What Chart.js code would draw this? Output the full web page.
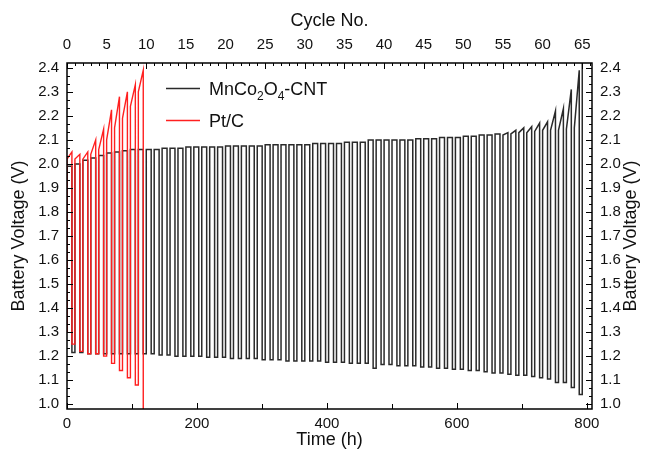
<!DOCTYPE html>
<html>
<head>
<meta charset="utf-8">
<script src="https://cdn.jsdelivr.net/npm/chart.js@4.4.0/dist/chart.umd.min.js"></script>
<style>
  html, body { margin: 0; padding: 0; background: #fff; }
</style>
</head>
<body>
<canvas id="cycleChart" width="648" height="451"></canvas>
<script>
// Per-cycle voltages (V)
const cntCharge = [
  1.99, 2.00, 2.015, 2.025, 2.035, 2.045, 2.05, 2.055, 2.06, 2.06,
  2.06, 2.06, 2.065, 2.065, 2.065, 2.07, 2.07, 2.07, 2.07, 2.07,
  2.075, 2.075, 2.075, 2.075, 2.075, 2.08, 2.08, 2.08, 2.08, 2.08,
  2.08, 2.085, 2.085, 2.085, 2.085, 2.09, 2.09, 2.09,
  2.10, 2.10, 2.10, 2.10, 2.10, 2.10, 2.105,
  2.105, 2.105, 2.11, 2.11, 2.11,
  2.115, 2.115, 2.12, 2.12, 2.125,
  2.13, 2.14, 2.15, 2.155, 2.17, 2.175, 2.22, 2.23, 2.31, 2.39
];
const cntDischarge = [
  1.215, 1.215, 1.21, 1.21, 1.21, 1.21, 1.21, 1.21, 1.21, 1.21,
  1.21, 1.205, 1.205, 1.20, 1.20, 1.20, 1.20, 1.195, 1.195, 1.195,
  1.19, 1.19, 1.19, 1.19, 1.185, 1.185, 1.185, 1.18, 1.18, 1.18,
  1.18, 1.18, 1.175, 1.175, 1.175, 1.17, 1.17, 1.17,
  1.15, 1.165, 1.165, 1.16, 1.16, 1.16, 1.155,
  1.155, 1.15, 1.15, 1.145, 1.145, 1.14, 1.14, 1.135, 1.13, 1.13,
  1.125, 1.12, 1.12, 1.115, 1.11, 1.105, 1.09, 1.09, 1.07, 1.04
];
// last ten MnCo2O4-CNT cycles, where the charge voltage climbs during the step
const cntRampStart = [2.12, 2.125, 2.13, 2.13, 2.135, 2.14, 2.14, 2.14, 2.145, 2.15];

const ptChargeStart = [2.02, 2.02, 2.02, 2.04, 2.06, 2.10, 2.15, 2.19, 2.24, 2.30];
const ptCharge = [2.05, 2.04, 2.05, 2.10, 2.145, 2.225, 2.28, 2.30, 2.33, 2.39];
const ptDischarge = [1.25, 1.22, 1.21, 1.21, 1.20, 1.17, 1.14, 1.11, 1.08, 0.90];

const startVoltage = 1.30;
const cycleHours = 12.2;
const chargeShare = 0.62;

const timeTicks = [0, 200, 400, 600, 800];
const cycleTicks = [0, 5, 10, 15, 20, 25, 30, 35, 40, 45, 50, 55, 60, 65];
const voltTicks = [1.0, 1.1, 1.2, 1.3, 1.4, 1.5, 1.6, 1.7, 1.8, 1.9, 2.0, 2.1, 2.2, 2.3, 2.4];

// Turn per-cycle values into a galvanostatic trace: charge step, then discharge step
function buildTrace(chargeStart, chargeEnd, discharge) {
    const pts = [{ x: 0, y: startVoltage }];
    for (let k = 0; k < chargeEnd.length; k++) {
        const t0 = k * cycleHours;
        const t1 = t0 + chargeShare * cycleHours;
        const t2 = t0 + cycleHours;
        pts.push({ x: t0, y: chargeStart[k] });
        pts.push({ x: t1, y: chargeEnd[k] });
        pts.push({ x: t1, y: discharge[k] });
        pts.push({ x: t2, y: discharge[k] });
    }
    return pts;
}

const cntStart = cntCharge.map((v, i) => {
    const r = i - (cntCharge.length - cntRampStart.length);
    return r >= 0 ? cntRampStart[r] : v;
});
const cntTrace = buildTrace(cntStart, cntCharge, cntDischarge);
// the cell starts one more charge that runs off the top of the plot
cntTrace.push({ x: cntCharge.length * cycleHours, y: 2.6 });
const ptTrace = buildTrace(ptChargeStart, ptCharge, ptDischarge);

const FONT = "'Liberation Sans', Arial, sans-serif";
const tickFont = { family: FONT, size: 15 };
const titleFont = { family: FONT, size: 18 };

function fixTicks(list) {
    return function (scale) {
        scale.ticks = list.map(v => ({ value: v }));
    };
}

// Frame and inward tick marks, Origin style
const frameTicks = {
    id: 'frameTicks',
    afterDraw(chart) {
        const { ctx, chartArea: a, scales } = chart;
        ctx.save();
        ctx.strokeStyle = '#000';
        ctx.lineWidth = 1;
        ctx.beginPath();
        function vTick(scale, v, len, fromBottom) {
            const x = Math.round(scale.getPixelForValue(v)) + 0.5;
            if (fromBottom) { ctx.moveTo(x, a.bottom); ctx.lineTo(x, a.bottom - len); }
            else { ctx.moveTo(x, a.top); ctx.lineTo(x, a.top + len); }
        }
        function hTick(scale, v, len, fromLeft) {
            const y = Math.round(scale.getPixelForValue(v)) + 0.5;
            if (fromLeft) { ctx.moveTo(a.left, y); ctx.lineTo(a.left + len, y); }
            else { ctx.moveTo(a.right, y); ctx.lineTo(a.right - len, y); }
        }
        for (let v = 0; v <= 800; v += 100) vTick(scales.x, v, v % 200 === 0 ? 6 : 5, true);
        for (let c = 0; c <= 66; c++) vTick(scales.x2, c, c % 5 === 0 ? 6 : 3, false);
        for (let i = 0; i <= 42; i++) {
            const v = 1.0 + i * 0.1 / 3;
            const len = i % 3 === 0 ? 6 : 3;
            hTick(scales.y, v, len, true);
            hTick(scales.y2, v, len, false);
        }
        ctx.stroke();
        ctx.lineWidth = 1.5;
        ctx.strokeRect(a.left, a.top, a.right - a.left, a.bottom - a.top);

        // right axis title reads bottom-to-top, same as the left one
        ctx.fillStyle = '#111';
        ctx.font = '18px ' + FONT;
        ctx.textAlign = 'center';
        ctx.textBaseline = 'middle';
        ctx.translate(631, (a.top + a.bottom) / 2);
        ctx.rotate(-Math.PI / 2);
        ctx.fillText('Battery Voltage (V)', 0, 0);
        ctx.restore();
    }
};

// Legend inside the plot, with subscripts in the formula
const innerLegend = {
    id: 'innerLegend',
    afterDraw(chart) {
        const ctx = chart.ctx;
        ctx.save();
        ctx.lineWidth = 1.3;
        ctx.strokeStyle = '#2a2a2a';
        ctx.beginPath(); ctx.moveTo(166, 88.5); ctx.lineTo(200, 88.5); ctx.stroke();
        ctx.strokeStyle = '#ff2020';
        ctx.beginPath(); ctx.moveTo(166, 120.5); ctx.lineTo(200, 120.5); ctx.stroke();

        ctx.fillStyle = '#111';
        ctx.textBaseline = 'alphabetic';
        const big = '18px ' + FONT, small = '12px ' + FONT;
        let x = 209;
        const parts = [['MnCo', big, 0], ['2', small, 5], ['O', big, 0], ['4', small, 5], ['-CNT', big, 0]];
        parts.forEach(([txt, f, dy]) => {
            ctx.font = f;
            ctx.fillText(txt, x, 95 + dy);
            x += ctx.measureText(txt).width;
        });
        ctx.font = big;
        ctx.fillText('Pt/C', 209, 127);
        ctx.restore();
    }
};

const ctx = document.getElementById('cycleChart').getContext('2d');
new Chart(ctx, {
    type: 'line',
    data: {
        datasets: [
            {
                label: 'Pt/C',
                data: ptTrace,
                borderColor: '#ff2020',
                borderWidth: 1.4,
                pointRadius: 0,
                clip: 0,
                xAxisID: 'x',
                yAxisID: 'y'
            },
            {
                label: 'MnCo2O4-CNT',
                data: cntTrace,
                borderColor: '#2a2a2a',
                borderWidth: 1.5,
                pointRadius: 0,
                clip: 0,
                xAxisID: 'x',
                yAxisID: 'y'
            }
        ]
    },
    options: {
        responsive: false,
        animation: false,
        layout: { padding: 0 },
        plugins: { legend: { display: false }, tooltip: { enabled: false } },
        scales: {
            x: {
                type: 'linear', position: 'bottom', min: 0, max: 808,
                afterBuildTicks: fixTicks(timeTicks),
                afterFit: s => { s.height = 42; },
                grid: { display: false, drawTicks: false },
                border: { display: false },
                ticks: { font: tickFont, color: '#111', padding: 6, maxRotation: 0 },
                title: { display: true, text: 'Time (h)', font: titleFont, color: '#111', padding: { top: 0, bottom: 0 } }
            },
            x2: {
                type: 'linear', position: 'top', min: 0, max: 808 / cycleHours,
                afterBuildTicks: fixTicks(cycleTicks),
                afterFit: s => { s.height = 63; },
                grid: { display: false, drawTicks: false },
                border: { display: false },
                ticks: { font: tickFont, color: '#111', padding: 9, maxRotation: 0 },
                title: { display: true, text: 'Cycle No.', font: titleFont, color: '#111', padding: { top: 10, bottom: 0 } }
            },
            y: {
                type: 'linear', position: 'left', min: 0.98, max: 2.42,
                afterBuildTicks: fixTicks(voltTicks),
                afterFit: s => { s.width = 67; },
                grid: { display: false, drawTicks: false },
                border: { display: false },
                ticks: { font: tickFont, color: '#111', padding: 8, callback: v => v.toFixed(1) },
                title: { display: true, text: 'Battery Voltage (V)', font: titleFont, color: '#111', padding: { top: 8, bottom: 0 } }
            },
            y2: {
                type: 'linear', position: 'right', min: 0.98, max: 2.42,
                afterBuildTicks: fixTicks(voltTicks),
                afterFit: s => { s.width = 56; },
                grid: { display: false, drawTicks: false },
                border: { display: false },
                ticks: { font: tickFont, color: '#111', padding: 8, callback: v => v.toFixed(1) },
                title: { display: false }
            }
        }
    },
    plugins: [frameTicks, innerLegend]
});
</script>
</body>
</html>
